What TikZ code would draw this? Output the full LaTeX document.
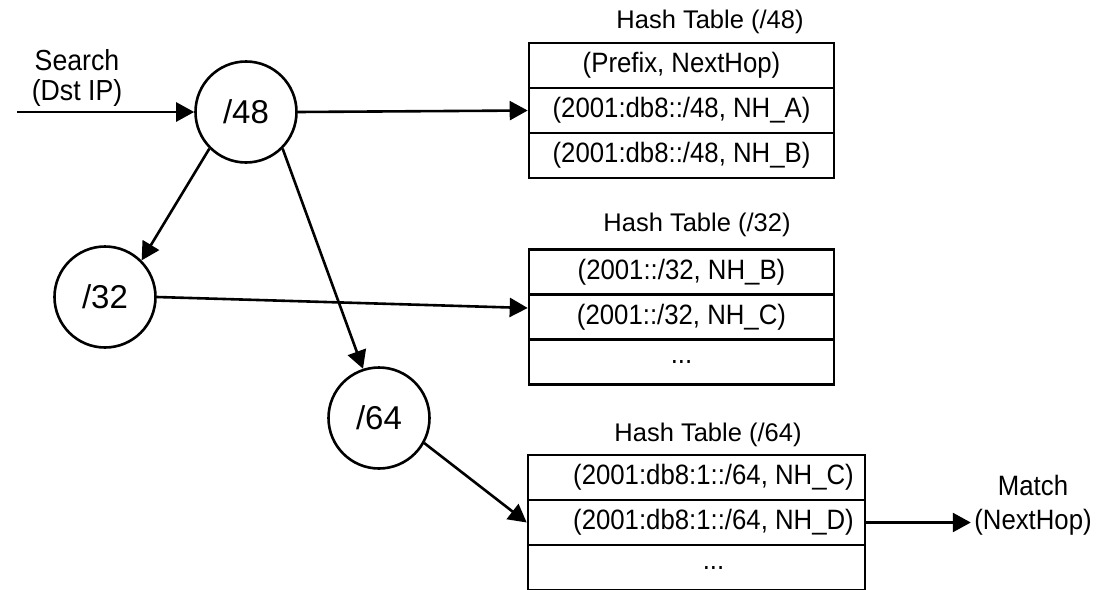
\documentclass[tikz,border=0pt]{standalone}
\usepackage{fontspec}
\setmainfont{Liberation Sans}
\newfontfamily\cellfont{Liberation Sans}[FakeStretch=0.92]
\usepackage{tikz}
\usetikzlibrary{shapes,arrows.meta}

\begin{document}
\begin{tikzpicture}[x=1pt,y=-1pt,
  pfxnode/.style={circle, draw, line width=2.6pt, minimum size=101pt,
    inner sep=0pt, font=\fontsize{33}{36}\selectfont},
  cell/.style={draw, line width=2.6pt, minimum width=305pt,
    minimum height=45pt, inner sep=0pt, font=\cellfont\fontsize{28}{30}\selectfont},
  widecell/.style={cell, minimum width=337pt},
  caption/.style={font=\fontsize{25.5}{28}\selectfont},
  celltext/.style={font=\cellfont\fontsize{28}{30}\selectfont},
  flow/.style={-{Triangle[length=18pt,width=19pt]}, line width=2.6pt}]
  \useasboundingbox (0,0) rectangle (1115,589);

  \node[caption, align=center, font=\cellfont\fontsize{29}{30}\selectfont] (search) at (77,78) {Search\\(Dst IP)};
  \coordinate (src) at (17,112);

  \node[pfxnode] (n48) at (246,112) {/48};
  \node[pfxnode] (n32) at (105,297) {/32};
  \node[pfxnode] (n64) at (379,418) {/64};

  \node[caption] (h48) at (710,22) {Hash Table (/48)};
  \node[cell] (t48a) at (681.5,65.5) {(Prefix, NextHop)};
  \node[cell] (t48b) at (681.5,110.5) {(2001:db8::/48, NH\_A)};
  \node[cell] (t48c) at (681.5,155.5) {(2001:db8::/48, NH\_B)};

  \node[caption] (h32) at (697,225) {Hash Table (/32)};
  \node[cell] (t32a) at (681.5,272) {(2001::/32, NH\_B)};
  \node[cell] (t32b) at (681.5,317) {(2001::/32, NH\_C)};
  \node[cell] (t32c) at (681.5,362) {...};

  \node[caption] (h64) at (708,435) {Hash Table (/64)};
  \node[widecell, label={[celltext, xshift=17pt]center:(2001:db8:1::/64, NH\_C)}] (t64a) at (696.5,477.5) {};
  \node[widecell, label={[celltext, xshift=17pt]center:(2001:db8:1::/64, NH\_D)}] (t64b) at (696.5,522.5) {};
  \node[widecell, label={[celltext, xshift=17pt]center:...}] (t64c) at (696.5,567.5) {};

  \node[caption, align=center, font=\cellfont\fontsize{28}{34}\selectfont] (match) at (1033,505) {Match\\(NextHop)};

  \draw[flow] (src) -- (n48);
  \draw[flow] (n48.east) -- (t48b.west);
  \draw[flow] (n48.south west) -- (n32.north east);
  \draw[flow] (n48.south east) -- (n64.108);
  \draw[flow] (n32.east) -- ([yshift=9pt]t32b.west);
  \draw[flow] (n64.-29) -- (t64b.west);
  \draw[flow] (t64b.east) -- (t64b.east -| match.west);
\end{tikzpicture}
\end{document}
